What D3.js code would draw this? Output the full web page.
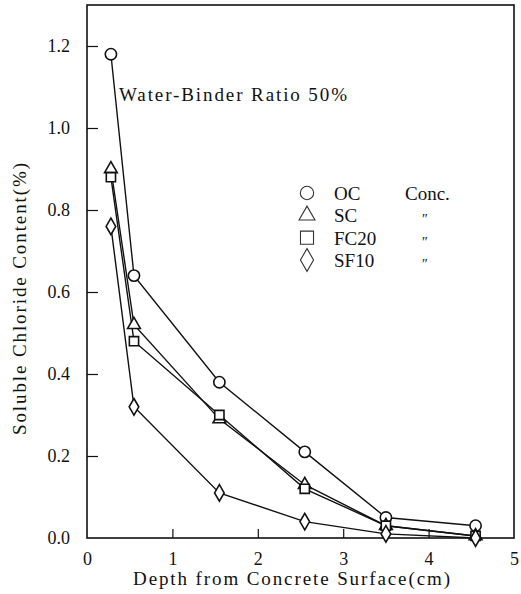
<!DOCTYPE html>
<html><head><meta charset="utf-8">
<script src="https://cdn.jsdelivr.net/npm/d3@7"></script>
<style>body{margin:0;background:#fff}svg{display:block}
svg text{font-family:"Liberation Serif","Times New Roman",Tinos,"DejaVu Serif",serif !important;fill:#111}</style>
</head><body><svg id="c" width="521" height="594"></svg>
<script>
const depth = [0.28, 0.55, 1.55, 2.55, 3.5, 4.55];
const ocValues = [1.18, 0.64, 0.38, 0.21, 0.05, 0.03];
const scValues = [0.90, 0.52, 0.29, 0.13, 0.03, 0.005];
const fc20Values = [0.88, 0.48, 0.30, 0.12, 0.03, 0.005];
const sf10Values = [0.76, 0.32, 0.11, 0.04, 0.01, 0.0];
const seriesNames = ["OC", "SC", "FC20", "SF10"];
const seriesSymbols = ["circle", "triangle", "square", "diamond"];
const xTicks = [0, 1, 2, 3, 4, 5];
const yTicks = [0.0, 0.2, 0.4, 0.6, 0.8, 1.0, 1.2];
const xLabel = "Depth from Concrete Surface(cm)";
const yLabel = "Soluble Chloride Content(%)";
const note = "Water-Binder Ratio 50%";
const legendNote = ["Conc.", "″", "″", "″"];

const allValues = [ocValues, scValues, fc20Values, sf10Values];
const svg = d3.select("#c");
const L = 87, R = 514, T = 5, B = 538;
const x = d3.scaleLinear().domain([0, 5]).range([L, R]);
const y = d3.scaleLinear().domain([0, 1.3]).range([B, T]);

// frame
svg.append("rect").attr("x", L).attr("y", T).attr("width", R - L).attr("height", B - T)
  .attr("fill", "none").attr("stroke", "#111").attr("stroke-width", 1.6);

// axes with inward ticks
const xAxis = d3.axisBottom(x).tickValues(xTicks).tickSize(-9).tickPadding(14).tickFormat(d3.format("d"));
const gx = svg.append("g").attr("transform", `translate(0,${B})`).call(xAxis);
gx.attr("font-family", null);
gx.select(".domain").remove();
gx.selectAll(".tick line").attr("stroke", "#111").attr("stroke-width", 1.2)
  .filter(d => d === 0 || d === 5).remove();
gx.selectAll("text").attr("font-size", 18).attr("fill", "#111");

const yAxis = d3.axisLeft(y).tickValues(yTicks).tickSize(-11).tickPadding(17).tickFormat(d3.format(".1f"));
const gy = svg.append("g").attr("transform", `translate(${L},0)`).call(yAxis);
gy.attr("font-family", null);
gy.select(".domain").remove();
gy.selectAll(".tick line").attr("stroke", "#111").attr("stroke-width", 1.2)
  .filter(d => d === 0).remove();
gy.selectAll("text").attr("font-size", 18).attr("fill", "#111");

svg.append("text").attr("x", 133).attr("y", 585)
  .attr("font-size", 19).attr("textLength", 317).attr("lengthAdjust", "spacing").text(xLabel);
svg.append("text").attr("transform", "translate(26,435) rotate(-90)")
  .attr("font-size", 19).attr("textLength", 272).attr("lengthAdjust", "spacing").text(yLabel);
svg.append("text").attr("x", 119).attr("y", 101).attr("font-size", 19)
  .attr("textLength", 228).attr("lengthAdjust", "spacing").text(note);

const symType = {circle: d3.symbolCircle, triangle: d3.symbolTriangle, square: d3.symbolSquare, diamond: d3.symbolDiamond};
const symSize = {circle: 100, triangle: 70, square: 85, diamond: 80};
const line = d3.line().x(d => x(d[0])).y(d => y(d[1]));

allValues.forEach((vals, i) => {
  const pts = depth.map((d, j) => [d, vals[j]]);
  svg.append("path").attr("d", line(pts)).attr("fill", "none").attr("stroke", "#111").attr("stroke-width", 1.4);
});
allValues.forEach((vals, i) => {
  const s = seriesSymbols[i];
  svg.append("g").selectAll("path").data(depth.map((d, j) => [d, vals[j]])).join("path")
    .attr("d", d3.symbol().type(symType[s]).size(symSize[s]))
    .attr("transform", d => `translate(${x(d[0])},${y(d[1])})`)
    .attr("fill", "#fff").attr("stroke", "#111").attr("stroke-width", 1.6);
});

// legend
const legY = d3.scalePoint().domain(seriesNames).range([193, 260]);
seriesNames.forEach((n, i) => {
  const s = seriesSymbols[i];
  const yy = legY(n);
  svg.append("path").attr("d", d3.symbol().type(symType[s]).size(s === "circle" ? 140 : s === "square" ? 170 : s === "triangle" ? 110 : 150))
    .attr("transform", `translate(307,${yy})`).attr("fill", "none").attr("stroke", "#333").attr("stroke-width", 1.1);
  svg.append("text").attr("x", 334).attr("y", yy + 7).attr("font-size", 19).text(n);
  if (i === 0) svg.append("text").attr("x", 405).attr("y", yy + 7).attr("font-size", 19).text(legendNote[i]);
  else svg.append("text").attr("x", 425).attr("y", yy + 9).attr("font-size", 14).attr("text-anchor", "middle").text(legendNote[i]);
});
</script></body></html>
